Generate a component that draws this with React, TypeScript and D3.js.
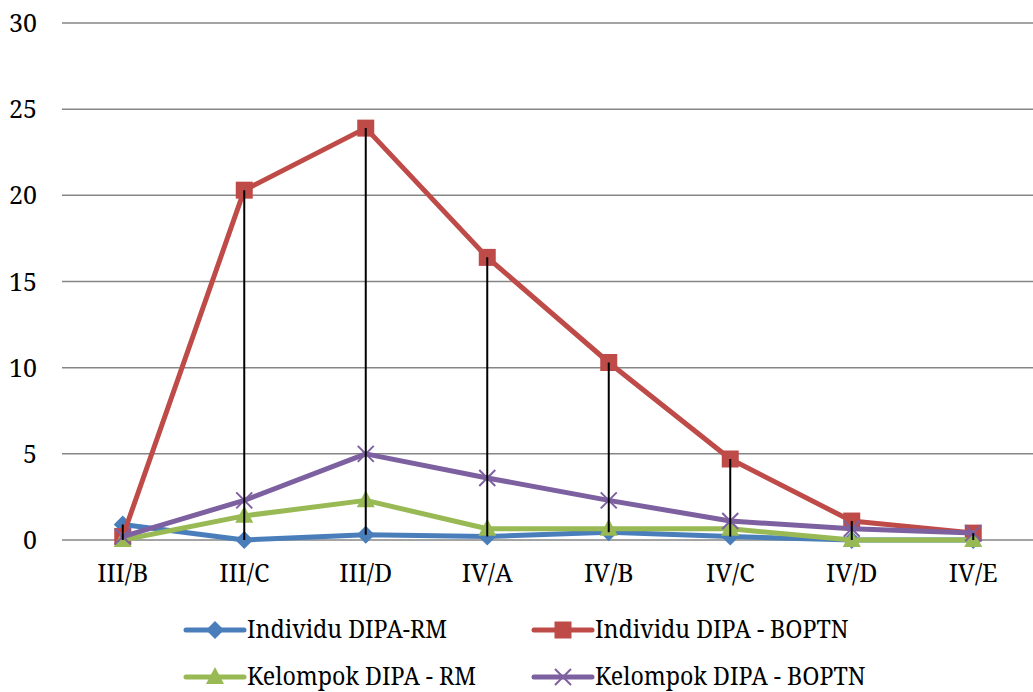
import { useEffect, useRef } from 'react'
import * as d3 from 'd3'

const categories = ['III/B', 'III/C', 'III/D', 'IV/A', 'IV/B', 'IV/C', 'IV/D', 'IV/E']
const individuRM = [0.9, 0, 0.3, 0.2, 0.45, 0.2, 0, 0]
const individuBOPTN = [0.2, 20.3, 23.9, 16.4, 10.3, 4.7, 1.1, 0.4]
const kelompokRM = [0, 1.4, 2.3, 0.65, 0.65, 0.65, 0, 0]
const kelompokBOPTN = [0.2, 2.3, 5, 3.6, 2.3, 1.1, 0.65, 0.4]
const yTicks = [0, 5, 10, 15, 20, 25, 30]

type Marker = 'diamond' | 'square' | 'triangle' | 'x'

const series: { name: string; values: number[]; color: string; marker: Marker }[] = [
  { name: 'Individu DIPA-RM', values: individuRM, color: '#4A7EBB', marker: 'diamond' },
  { name: 'Individu DIPA - BOPTN', values: individuBOPTN, color: '#BE4B48', marker: 'square' },
  { name: 'Kelompok DIPA - RM', values: kelompokRM, color: '#98B954', marker: 'triangle' },
  { name: 'Kelompok DIPA - BOPTN', values: kelompokBOPTN, color: '#7D60A0', marker: 'x' }
]

const FONT = "'Noto Serif'"

export default function App() {
  const svgRef = useRef<SVGSVGElement>(null)

  useEffect(() => {
    if (!svgRef.current) return
    const width = 1033
    const height = 692
    const margin = { top: 23, right: 0, bottom: 152, left: 62 }

    const svg = d3.select(svgRef.current)
    svg.selectAll('*').remove()
    svg.attr('width', width).attr('height', height)

    const x = d3.scaleBand().domain(categories).range([margin.left, width + 1])
    const y = d3.scaleLinear().domain([0, 30]).range([height - margin.bottom, margin.top])
    const cx = (c: string) => (x(c) as number) + x.bandwidth() / 2

    // grid
    svg.append('g')
      .selectAll('line')
      .data(yTicks)
      .enter()
      .append('line')
      .attr('x1', margin.left)
      .attr('x2', width)
      .attr('y1', d => y(d))
      .attr('y2', d => y(d))
      .attr('stroke', '#868686')
      .attr('stroke-width', 1.5)

    // y labels
    svg.append('g')
      .selectAll('text')
      .data(yTicks)
      .enter()
      .append('text')
      .attr('x', 37)
      .attr('y', d => y(d) + 9)
      .attr('text-anchor', 'end')
      .style('font-family', FONT)
      .attr('font-size', 25)
      .attr('fill', '#000')
      .text(d => d)

    // x labels
    svg.append('g')
      .selectAll('text')
      .data(categories)
      .enter()
      .append('text')
      .attr('x', d => cx(d))
      .attr('y', 582)
      .attr('text-anchor', 'middle')
      .style('font-family', FONT)
      .attr('font-size', 25)
      .attr('fill', '#000')
      .text(d => d)

    const drawMarker = (g: d3.Selection<SVGGElement, unknown, null, undefined>, m: Marker, color: string, px: number, py: number) => {
      if (m === 'diamond') {
        g.append('path').attr('d', `M${px},${py - 9}L${px + 9},${py}L${px},${py + 9}L${px - 9},${py}Z`).attr('fill', color)
      } else if (m === 'square') {
        g.append('rect').attr('x', px - 8.5).attr('y', py - 8.5).attr('width', 17).attr('height', 17).attr('fill', color)
      } else if (m === 'triangle') {
        g.append('path').attr('d', `M${px},${py - 10}L${px + 9},${py + 7}L${px - 9},${py + 7}Z`).attr('fill', color)
      } else {
        g.append('path').attr('d', `M${px - 8},${py - 8}L${px + 8},${py + 8}M${px + 8},${py - 8}L${px - 8},${py + 8}`)
          .attr('stroke', color).attr('stroke-width', 2)
      }
    }

    const line = d3.line<number>()
      .x((_, i) => cx(categories[i]))
      .y(d => y(d))

    series.forEach(s => {
      const g = svg.append('g')
      g.append('path')
        .attr('d', line(s.values))
        .attr('fill', 'none')
        .attr('stroke', s.color)
        .attr('stroke-width', 5)
        .attr('stroke-linejoin', 'round')
        .attr('stroke-linecap', 'round')
      s.values.forEach((v, i) => drawMarker(g as any, s.marker, s.color, cx(categories[i]), y(v)))
    })

    // high-low lines
    svg.append('g')
      .selectAll('line')
      .data(categories)
      .enter()
      .append('line')
      .attr('x1', d => cx(d))
      .attr('x2', d => cx(d))
      .attr('y1', (_, i) => y(d3.max(series, s => s.values[i]) as number))
      .attr('y2', (_, i) => y(d3.min(series, s => s.values[i]) as number))
      .attr('stroke', '#000')
      .attr('stroke-width', 2)

    // legend
    const legendPos = [
      { x: 186, y: 630 },
      { x: 534, y: 630 },
      { x: 186, y: 677 },
      { x: 534, y: 677 }
    ]
    series.forEach((s, i) => {
      const p = legendPos[i]
      const g = svg.append('g')
      g.append('line')
        .attr('x1', p.x).attr('x2', p.x + 58)
        .attr('y1', p.y).attr('y2', p.y)
        .attr('stroke', s.color).attr('stroke-width', 5).attr('stroke-linecap', 'round')
      drawMarker(g as any, s.marker, s.color, p.x + 29, p.y)
      g.append('text')
        .attr('transform', `translate(${p.x + 61},${p.y + 8}) scale(0.93,1)`)
        .style('font-family', FONT)
        .attr('font-size', 25)
        .attr('fill', '#000')
        .text(s.name)
    })
  }, [])

  return (
    <svg ref={svgRef} style={{ position: 'absolute', left: 0, top: 0, background: '#fff' }} />
  )
}
